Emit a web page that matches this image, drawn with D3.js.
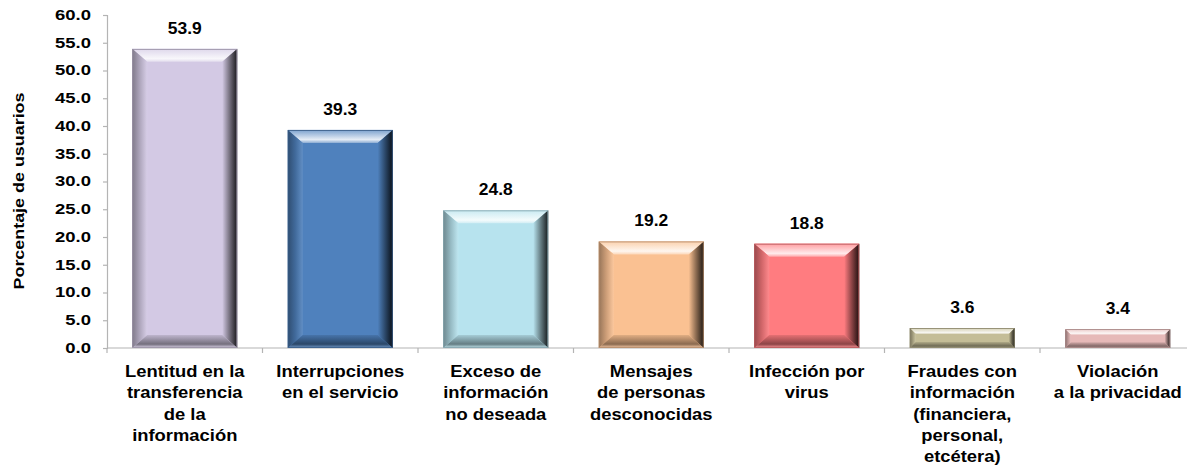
<!DOCTYPE html>
<html>
<head>
<meta charset="utf-8">
<script src="https://cdnjs.cloudflare.com/ajax/libs/d3/7.8.5/d3.min.js"></script>
<style>
  body { margin: 0; background: #fff; }
  text { font-family: Arial, "Liberation Sans", sans-serif; font-weight: bold; fill: #000; }
</style>
</head>
<body>
<script>
var categories = [
  'Lentitud en la transferencia de la información',
  'Interrupciones en el servicio',
  'Exceso de información no deseada',
  'Mensajes de personas desconocidas',
  'Infección por virus',
  'Fraudes con información (financiera, personal, etcétera)',
  'Violación a la privacidad'
];
var labelLines = [
  ['Lentitud en la', 'transferencia', 'de la', 'información'],
  ['Interrupciones', 'en el servicio'],
  ['Exceso de', 'información', 'no deseada'],
  ['Mensajes', 'de personas', 'desconocidas'],
  ['Infección por', 'virus'],
  ['Fraudes con', 'información', '(financiera,', 'personal,', 'etcétera)'],
  ['Violación', 'a la privacidad']
];
var values = [53.9, 39.3, 24.8, 19.2, 18.8, 3.6, 3.4];
var colors = ['#d3c9e4', '#4f81bd', '#b7e3ee', '#fac192', '#ff7c80', '#c4bd97', '#e6b9b8'];
var yTicks = [0, 5, 10, 15, 20, 25, 30, 35, 40, 45, 50, 55, 60];

var w = 1187, h = 468;
var svg = d3.select('body').append('svg')
  .attr('width', w)
  .attr('height', h);

var x = d3.scaleBand()
  .domain(categories)
  .range([107, 1195.5])
  .paddingInner(0.325)
  .paddingOuter(0.1625);
var y = d3.scaleLinear()
  .domain([0, 60])
  .range([348, 15]);

function mix(c, other, t) {
  return d3.interpolateRgb(c, other)(t);
}

// gradients for the bevel sides of each bar
var defs = svg.append('defs');
colors.forEach(function (c, i) {
  var g = defs.append('linearGradient').attr('id', 'top' + i)
    .attr('x1', 0).attr('y1', 0).attr('x2', 0).attr('y2', 1);
  g.append('stop').attr('offset', 0).attr('stop-color', mix(c, '#fff', 0.25));
  g.append('stop').attr('offset', 0.75).attr('stop-color', mix(c, '#fff', 0.85));
  g.append('stop').attr('offset', 1).attr('stop-color', mix(c, '#fff', 0.35));

  g = defs.append('linearGradient').attr('id', 'left' + i)
    .attr('x1', 0).attr('y1', 0).attr('x2', 1).attr('y2', 0);
  g.append('stop').attr('offset', 0).attr('stop-color', mix(c, '#000', 0.4));
  g.append('stop').attr('offset', 0.5).attr('stop-color', mix(c, '#000', 0.18));
  g.append('stop').attr('offset', 1).attr('stop-color', mix(c, '#fff', 0.1));

  g = defs.append('linearGradient').attr('id', 'right' + i)
    .attr('x1', 0).attr('y1', 0).attr('x2', 1).attr('y2', 0);
  g.append('stop').attr('offset', 0).attr('stop-color', c);
  g.append('stop').attr('offset', 0.5).attr('stop-color', mix(c, '#000', 0.45));
  g.append('stop').attr('offset', 1).attr('stop-color', mix(c, '#000', 0.88));

  g = defs.append('linearGradient').attr('id', 'bottom' + i)
    .attr('x1', 0).attr('y1', 0).attr('x2', 0).attr('y2', 1);
  g.append('stop').attr('offset', 0).attr('stop-color', mix(c, '#000', 0.1));
  g.append('stop').attr('offset', 0.7).attr('stop-color', mix(c, '#000', 0.45));
  g.append('stop').attr('offset', 1).attr('stop-color', mix(c, '#fff', 0.2));
});

// axes
var yAxis = svg.append('g')
  .attr('transform', 'translate(107,0)')
  .call(d3.axisLeft(y).tickValues(yTicks).tickSize(4).tickPadding(12)
    .tickFormat(d3.format('.1f')));
yAxis.selectAll('text')
  .style('font-size', '14px')
  .attr('x', -16 / 1.32)
  .attr('transform', 'scale(1.32,1)');

var xAxis = svg.append('g')
  .attr('transform', 'translate(0,348)')
  .call(d3.axisBottom(x).tickSize(0).tickFormat(''));
xAxis.select('.domain').attr('d', 'M107,0H1195.5');

// category boundary ticks
svg.selectAll('line.cat')
  .data(d3.range(categories.length + 1))
  .enter()
  .append('line')
  .attr('class', 'cat')
  .attr('x1', function (d) { return x.range()[0] + d * x.step(); })
  .attr('x2', function (d) { return x.range()[0] + d * x.step(); })
  .attr('y1', 348)
  .attr('y2', 353);

svg.selectAll('.domain, .tick line, line.cat')
  .attr('stroke', '#b4b4b4')
  .attr('stroke-width', 1.2);

// bars with bevel
var bars = svg.selectAll('g.bar')
  .data(values)
  .enter()
  .append('g')
  .attr('class', 'bar');

bars.each(function (d, i) {
  var g = d3.select(this);
  var x0 = x(categories[i]), x1 = x0 + x.bandwidth();
  var y0 = y(d), y1 = y(0);
  var bh = y1 - y0;
  var bx = Math.min(15, bh * 0.3), by = Math.min(13, bh * 0.3);
  function poly(pts) { return pts.map(function (p) { return p.join(','); }).join(' '); }

  g.append('rect')
    .attr('x', x0).attr('y', y0)
    .attr('width', x1 - x0).attr('height', bh)
    .attr('fill', colors[i]);
  g.append('polygon')
    .attr('points', poly([[x0, y0], [x1, y0], [x1 - bx, y0 + by], [x0 + bx, y0 + by]]))
    .attr('fill', 'url(#top' + i + ')');
  g.append('polygon')
    .attr('points', poly([[x0, y0], [x0 + bx, y0 + by], [x0 + bx, y1 - by], [x0, y1]]))
    .attr('fill', 'url(#left' + i + ')');
  g.append('polygon')
    .attr('points', poly([[x1 - bx, y0 + by], [x1, y0], [x1, y1], [x1 - bx, y1 - by]]))
    .attr('fill', 'url(#right' + i + ')');
  g.append('polygon')
    .attr('points', poly([[x0, y1], [x0 + bx, y1 - by], [x1 - bx, y1 - by], [x1, y1]]))
    .attr('fill', 'url(#bottom' + i + ')');
  g.append('rect')
    .attr('x', x0 + 0.5).attr('y', y0 + 0.5)
    .attr('width', x1 - x0 - 1).attr('height', bh - 1)
    .attr('fill', 'none')
    .attr('stroke', mix(colors[i], '#000', 0.3))
    .attr('stroke-width', 0.8);
});

// value labels
svg.selectAll('text.value')
  .data(values)
  .enter()
  .append('text')
  .attr('class', 'value')
  .attr('transform', function (d, i) {
    return 'translate(' + (x(categories[i]) + x.bandwidth() / 2) + ',' + (y(d) - 15) + ') scale(1.09,1)';
  })
  .attr('text-anchor', 'middle')
  .style('font-size', '16px')
  .text(function (d) { return d.toFixed(1); });

// category labels
var cats = svg.selectAll('text.cat')
  .data(labelLines)
  .enter()
  .append('text')
  .attr('class', 'cat')
  .attr('transform', function (d, i) {
    return 'translate(' + (x(categories[i]) + x.bandwidth() / 2) + ',0) scale(1.15,1)';
  })
  .attr('text-anchor', 'middle')
  .style('font-size', '16px');
cats.each(function (lines) {
  d3.select(this).selectAll('tspan')
    .data(lines)
    .enter()
    .append('tspan')
    .attr('x', 0)
    .attr('y', function (d, j) { return 377 + j * 21.3; })
    .text(function (d) { return d; });
});

// y axis title
svg.append('text')
  .attr('transform', 'translate(24,191) rotate(-90) scale(1.28,1)')
  .attr('text-anchor', 'middle')
  .style('font-size', '14px')
  .text('Porcentaje de usuarios');
</script>
</body>
</html>
